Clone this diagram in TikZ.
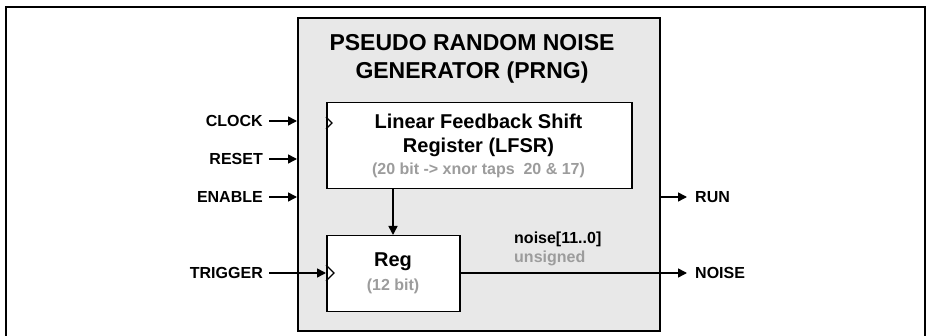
\documentclass[tikz,border=0pt]{standalone}
\usepackage{fontspec}
\setmainfont{Liberation Sans}
\usetikzlibrary{arrows.meta}
\definecolor{boxfill}{HTML}{E8E8E8}
\definecolor{subtext}{HTML}{9C9C9C}
\begin{document}
\begin{tikzpicture}[x=1pt,y=-1pt,
  lbl/.style={font=\bfseries\fontsize{16}{19}\selectfont, inner sep=0pt},
  arr/.style={-{Triangle[length=9pt,width=9pt]}, line width=1.5pt},
  blk/.style={draw, line width=1.5pt, fill=white, anchor=north west, inner sep=0pt},
  clk/.style={line width=1.3pt}
]
\useasboundingbox (0,0) rectangle (927,336);
\begin{scope}
  \clip (0,0) rectangle (927,336);
  \draw[line width=2.2pt] (6,7) rectangle (925,360);
\end{scope}
% main gray box
\node[draw, line width=1.8pt, fill=boxfill, anchor=north west, minimum width=362pt, minimum height=313pt, inner sep=0pt] (prng) at (297,17) {};
\node[font=\bfseries\fontsize{23}{28}\selectfont, align=center, inner sep=0pt] (title) at (472,59) {PSEUDO RANDOM NOISE\\GENERATOR (PRNG)};
% LFSR
\node[blk, minimum width=305pt, minimum height=86pt] (lfsr) at (326,102) {};
\node[font=\bfseries\fontsize{20}{24}\selectfont, align=center, inner sep=0pt] (lfsrt) at (478.5,135) {Linear Feedback Shift\\Register (LFSR)};
\node[font=\bfseries\fontsize{16}{19}\selectfont, text=subtext, inner sep=0pt] (lfsrs) at (478.5,170) {(20 bit -> xnor taps\ \ 20 \& 17)};
% Reg
\node[blk, minimum width=133pt, minimum height=76pt] (reg) at (326,235) {};
\node[font=\bfseries\fontsize{20}{24}\selectfont, inner sep=0pt] (regt) at (393,262) {Reg};
\node[font=\bfseries\fontsize{16}{19}\selectfont, text=subtext, inner sep=0pt] (regs) at (393,286) {(12 bit)};
% clock chevrons
\coordinate (lclk) at (326,123);
\coordinate (rclk) at (326,273);
\draw[clk] ([yshift=6pt]lclk) -- ([xshift=6pt]lclk) -- ([yshift=-6pt]lclk);
\draw[clk] ([yshift=8pt]rclk) -- ([xshift=8pt]rclk) -- ([yshift=-8pt]rclk);
% input labels
\node[lbl, anchor=east] (clock) at (263,121) {CLOCK};
\node[lbl, anchor=east] (reset) at (263,159) {RESET};
\node[lbl, anchor=east] (enable) at (263,197) {ENABLE};
\node[lbl, anchor=east] (trigger) at (263,273) {TRIGGER};
\coordinate (clockin) at (297,121);
\coordinate (resetin) at (297,159);
\coordinate (enablein) at (297,197);
\draw[arr] ([xshift=6pt]clock.east) -- (clockin);
\draw[arr] ([xshift=6pt]reset.east) -- (resetin);
\draw[arr] ([xshift=6pt]enable.east) -- (enablein);
\draw[arr] ([xshift=6pt]trigger.east) -- (rclk);
% LFSR -> Reg
\draw[arr] (lfsr.south -| regt) -- (reg.north -| regt);
% outputs
\node[lbl, anchor=west] (run) at (695,197) {RUN};
\node[lbl, anchor=west] (noise) at (695,273) {NOISE};
\draw[arr] (prng.east |- run) -- ([xshift=-8pt]run.west);
\draw[arr] (reg.east |- noise) -- ([xshift=-8pt]noise.west);
\node[lbl, anchor=west] (bus) at (514,239) {noise[11..0]};
\node[lbl, anchor=west, text=subtext] (busu) at (514,258) {unsigned};
\end{tikzpicture}
\end{document}
